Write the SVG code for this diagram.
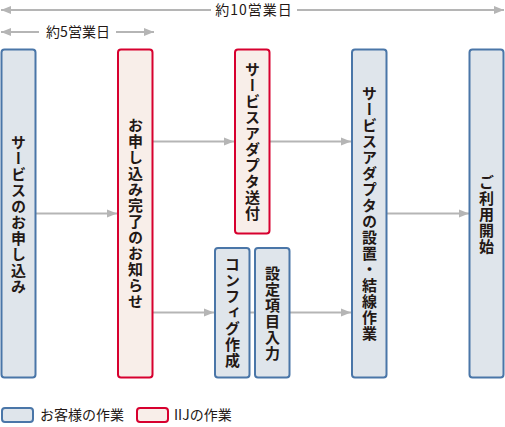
<svg xmlns="http://www.w3.org/2000/svg" width="505" height="427" viewBox="0 0 505 427">
<defs>
<marker id="ah" markerUnits="userSpaceOnUse" markerWidth="10" markerHeight="10" viewBox="0 0 10 10" refX="10" refY="5" orient="auto-start-reverse">
<path d="M0,1 L10,5 L0,9 Z" fill="#b5b5b5"/>
</marker>
<style>
.cust{fill:#dfe5eb;stroke:#4a76a8;stroke-width:2}
.iij{fill:#f8eee9;stroke:#d7002f;stroke-width:2}
.lbl{font-family:"Noto Sans CJK JP","Noto Sans",sans-serif;font-size:15px;font-weight:bold;fill:#231815;writing-mode:vertical-rl;text-anchor:middle;letter-spacing:1px}
.top{font-family:"Noto Sans CJK JP","Noto Sans",sans-serif;font-size:14px;fill:#231815}
.ln{stroke:#b5b5b5;stroke-width:2;fill:none}
</style>
</defs>
<g id="spans">
<line class="ln" x1="1" y1="10" x2="211" y2="10" marker-start="url(#ah)"/>
<line class="ln" x1="297" y1="10" x2="504" y2="10" marker-end="url(#ah)"/>
<text class="top" x="254" y="15" text-anchor="middle" letter-spacing="1">約10営業日</text>
<line class="ln" x1="1" y1="32" x2="39" y2="32" marker-start="url(#ah)"/>
<line class="ln" x1="116" y1="32" x2="154" y2="32" marker-end="url(#ah)"/>
<text class="top" x="78" y="37" text-anchor="middle">約5営業日</text>
</g>
<g id="connectors">
<line class="ln" x1="36" y1="213.5" x2="117" y2="213.5" marker-end="url(#ah)"/>
<line class="ln" x1="153" y1="141.5" x2="234" y2="141.5" marker-end="url(#ah)"/>
<line class="ln" x1="270" y1="141.5" x2="351" y2="141.5" marker-end="url(#ah)"/>
<line class="ln" x1="153" y1="312.5" x2="214" y2="312.5" marker-end="url(#ah)"/>
<line class="ln" x1="250" y1="312.5" x2="255" y2="312.5"/>
<line class="ln" x1="290" y1="312.5" x2="351" y2="312.5" marker-end="url(#ah)"/>
<line class="ln" x1="387" y1="213.5" x2="469" y2="213.5" marker-end="url(#ah)"/>
</g>
<g id="n1">
<rect class="cust" x="1.5" y="49.5" width="34" height="328" rx="3"/>
<text class="lbl" x="18.5" y="215">サービスのお申し込み</text>
</g>
<g id="n2">
<rect class="iij" x="118" y="49.5" width="34.5" height="328" rx="3"/>
<text class="lbl" x="135.5" y="214">お申し込み完了のお知らせ</text>
</g>
<g id="n3">
<rect class="iij" x="235" y="49.5" width="34.5" height="184" rx="3"/>
<text class="lbl" x="252.5" y="142">サービスアダプタ送付</text>
</g>
<g id="n4">
<rect class="cust" x="215" y="248" width="34.5" height="129.5" rx="3"/>
<text class="lbl" x="232.5" y="313">コンフィグ作成</text>
</g>
<g id="n5">
<rect class="cust" x="255" y="248" width="34.5" height="129.5" rx="3"/>
<text class="lbl" x="272.5" y="314">設定項目入力</text>
</g>
<g id="n6">
<rect class="cust" x="352" y="49.5" width="34.5" height="328" rx="3"/>
<text class="lbl" x="369.5" y="214">サービスアダプタの設置・結線作業</text>
</g>
<g id="n7">
<rect class="cust" x="469.5" y="49.5" width="34" height="328" rx="3"/>
<text class="lbl" x="486.5" y="215">ご利用開始</text>
</g>
<g id="legend">
<rect class="cust" x="2" y="408" width="31" height="14" rx="3"/>
<text class="top" x="40" y="420" font-size="13">お客様の作業</text>
<rect class="iij" x="137" y="408" width="31" height="14" rx="3"/>
<text class="top" x="174" y="420" font-size="13">IIJの作業</text>
</g>
</svg>
